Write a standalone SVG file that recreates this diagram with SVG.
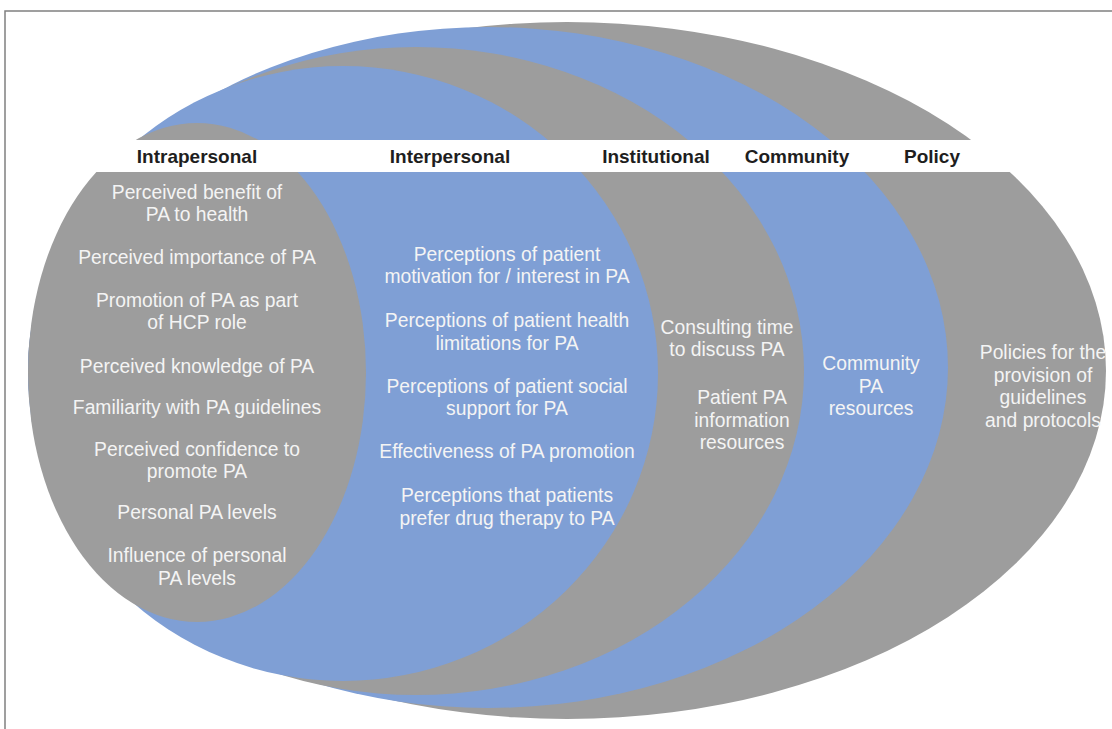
<svg xmlns="http://www.w3.org/2000/svg" width="1112" height="729" viewBox="0 0 1112 729">
<style>
.g{fill:#9d9d9d}
.b{fill:#7f9fd5}
.h{font-family:"Liberation Sans",Arial,sans-serif;font-size:19px;font-weight:bold;fill:#1e1e1e;text-anchor:middle}
.t{font-family:"Liberation Sans",Arial,sans-serif;font-size:19.3px;fill:#f4f4f4;text-anchor:middle}
</style>
<rect x="0" y="0" width="1112" height="729" fill="#ffffff"/>
<g id="policy"><ellipse class="g" cx="567" cy="370.5" rx="539" ry="348.5"/></g>
<g id="community"><ellipse class="b" cx="488" cy="367.5" rx="460" ry="340.5"/></g>
<g id="institutional"><ellipse class="g" cx="416" cy="371" rx="388" ry="324"/></g>
<g id="interpersonal"><ellipse class="b" cx="343" cy="373.5" rx="315" ry="307.5"/></g>
<g id="intrapersonal"><ellipse class="g" cx="197" cy="372.5" rx="169" ry="249.5"/></g>
<g id="band">
<rect x="0" y="140" width="1112" height="32" fill="#ffffff"/>
<text class="h" x="197" y="163">Intrapersonal</text>
<text class="h" x="450" y="163">Interpersonal</text>
<text class="h" x="656" y="163">Institutional</text>
<text class="h" x="797" y="163">Community</text>
<text class="h" x="932" y="163">Policy</text>
</g>
<g id="intrapersonal-text">
<text class="t" x="197" y="199">Perceived benefit of</text>
<text class="t" x="197" y="221">PA to health</text>
<text class="t" x="197" y="264">Perceived importance of PA</text>
<text class="t" x="197" y="307">Promotion of PA as part</text>
<text class="t" x="197" y="329">of HCP role</text>
<text class="t" x="197" y="373">Perceived knowledge of PA</text>
<text class="t" x="197" y="414">Familiarity with PA guidelines</text>
<text class="t" x="197" y="456">Perceived confidence to</text>
<text class="t" x="197" y="478">promote PA</text>
<text class="t" x="197" y="519">Personal PA levels</text>
<text class="t" x="197" y="562">Influence of personal</text>
<text class="t" x="197" y="585">PA levels</text>
</g>
<g id="interpersonal-text">
<text class="t" x="507" y="261">Perceptions of patient</text>
<text class="t" x="507" y="283">motivation for / interest in PA</text>
<text class="t" x="507" y="327">Perceptions of patient health</text>
<text class="t" x="507" y="350">limitations for PA</text>
<text class="t" x="507" y="393">Perceptions of patient social</text>
<text class="t" x="507" y="415">support for PA</text>
<text class="t" x="507" y="458">Effectiveness of PA promotion</text>
<text class="t" x="507" y="502">Perceptions that patients</text>
<text class="t" x="507" y="525">prefer drug therapy to PA</text>
</g>
<g id="institutional-text">
<text class="t" x="727" y="334">Consulting time</text>
<text class="t" x="727" y="356">to discuss PA</text>
<text class="t" x="742" y="404">Patient PA</text>
<text class="t" x="742" y="427">information</text>
<text class="t" x="742" y="449">resources</text>
</g>
<g id="community-text">
<text class="t" x="871" y="370">Community</text>
<text class="t" x="871" y="393">PA</text>
<text class="t" x="871" y="415">resources</text>
</g>
<g id="policy-text">
<text class="t" x="1043" y="359">Policies for the</text>
<text class="t" x="1043" y="382">provision of</text>
<text class="t" x="1043" y="404">guidelines</text>
<text class="t" x="1043" y="427">and protocols</text>
</g>
<rect x="5" y="11" width="1120" height="730" fill="none" stroke="#808080" stroke-width="1.5"/>
</svg>
